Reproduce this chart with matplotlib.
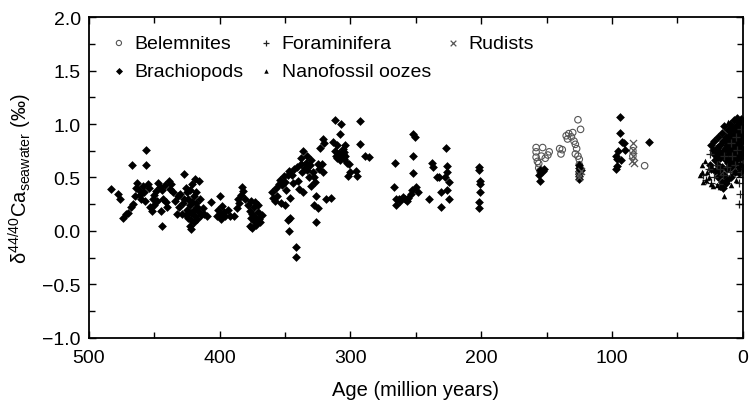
import matplotlib
matplotlib.use("Agg")
import matplotlib.pyplot as plt
from matplotlib.ticker import MultipleLocator

plt.rcParams['font.family'] = ['Liberation Sans', 'DejaVu Sans']
plt.rcParams['mathtext.fontset'] = 'custom'
plt.rcParams['mathtext.rm'] = 'Liberation Sans'
plt.rcParams['mathtext.it'] = 'Liberation Sans:italic'

# brachiopods (age in Ma, delta value)
brach_age = [483, 478, 476, 474, 472, 470, 468, 467, 466, 465, 464, 463, 462, 461, 460, 459, 458, 457, 456, 456,
             455, 454, 453, 452, 451, 450, 450, 449, 448, 447, 446, 445, 444, 444, 443, 442, 441, 440, 439, 438,
             437, 436,
             434, 433, 432, 431, 430, 429, 428, 427, 427, 426, 426, 425, 425, 424, 424, 423, 423, 423, 422, 422,
             422, 421, 421, 420, 420, 420, 419, 419, 418, 418, 417, 417, 416, 416, 415, 414, 413, 412, 410, 407,
             402, 401, 400, 400, 399, 398, 397, 396, 394, 392, 389, 387, 386, 385, 384, 383, 382, 381, 378, 377,
             377, 376, 376, 375, 375, 374, 374, 373, 373, 372, 371, 371, 370, 369, 368,
             360, 359, 358, 357, 356, 355, 354, 353, 352, 351, 350, 350, 349, 348, 348, 347, 347, 346, 346, 345,
             344, 343, 342, 342, 341, 340, 339, 338, 338, 337, 336, 336, 335, 334, 333, 333, 332, 331, 330, 330,
             329, 328, 328, 327, 326, 326, 325, 325, 324, 323, 322, 321, 321, 320, 319,
             315, 313, 312, 312, 311, 310, 310, 309, 308, 308, 307, 307, 306, 306, 305, 305, 304, 304, 303, 302,
             301, 300, 296, 295, 293, 293, 289, 286,
             267, 266, 265, 265, 263, 262, 260, 258, 257, 256, 254, 253, 252, 252, 252, 251, 250, 248, 240, 238,
             237, 234, 232, 231, 231, 228, 227, 226, 226, 226, 225, 225, 202, 202, 201, 201, 201, 202, 202,
             155, 154, 156, 155, 153, 152, 125, 125, 125, 125, 125, 124, 125,
             94, 94, 92, 91, 95, 97, 96, 93, 90, 97, 96, 72,
             24, 23, 22, 22, 21, 20, 20, 19, 19, 18, 18, 17, 17, 16, 16, 15, 15, 14, 14, 14,
             13, 13, 12, 12, 12, 11, 11, 11, 10, 10, 10, 9, 9, 9, 8, 8, 8, 7, 7, 7,
             6, 6, 6, 5, 5, 5, 4, 4, 4, 3, 3, 3, 2, 2, 2, 1, 1, 1, 0.5, 0.5,
             6, 9, 13, 16, 17, 15, 19, 21, 12, 3, 25, 24,
             1, 2, 3, 4, 5, 6, 7, 8, 9, 10, 11, 12, 1, 2, 4, 6, 8, 10, 3, 5,
             7, 9, 11, 13, 2, 0.5, 1.5, 2.5, 4.5, 6.5]
brach_val = [0.39, 0.35, 0.30, 0.12, 0.16, 0.17, 0.22, 0.62, 0.25, 0.33, 0.40, 0.45, 0.38, 0.34, 0.30, 0.42, 0.36, 0.28, 0.76, 0.62,
             0.44, 0.40, 0.22, 0.19, 0.30, 0.34, 0.24, 0.37, 0.28, 0.45, 0.41, 0.19, 0.05, 0.38, 0.30, 0.43, 0.27, 0.22, 0.47, 0.39,
             0.44, 0.36,
             0.28, 0.16, 0.33, 0.22, 0.35, 0.16, 0.26, 0.53, 0.30, 0.40, 0.15, 0.36, 0.20, 0.12, 0.30, 0.05, 0.24, 0.38, 0.02, 0.10,
             0.17, 0.27, 0.44, 0.08, 0.20, 0.33, 0.49, 0.14, 0.36, 0.26, 0.11, 0.22, 0.18, 0.47, 0.30, 0.15, 0.21, 0.16, 0.14, 0.27,
             0.14, 0.20, 0.33, 0.16, 0.11, 0.23, 0.18, 0.14, 0.20, 0.14, 0.14, 0.21, 0.30, 0.26, 0.34, 0.41, 0.37, 0.30, 0.24, 0.05,
             0.19, 0.12, 0.28, 0.03, 0.16, 0.22, 0.09, 0.27, 0.13, 0.06, 0.18, 0.24, 0.11, 0.08, 0.15,
             0.36, 0.31, 0.28, 0.40, 0.33, 0.44, 0.48, 0.26, 0.43, 0.51, 0.24, 0.46, 0.38, 0.52, 0.10, 0.00, 0.56, 0.31, 0.12, 0.52,
             0.45, 0.58, -0.15, -0.24, 0.60, 0.47, 0.39, 0.63, 0.68, 0.55, 0.75, 0.36, 0.59, 0.64, 0.70, 0.57, 0.50, 0.62, 0.42, 0.66,
             0.55, 0.24, 0.50, 0.46, 0.08, 0.33, 0.63, 0.21, 0.58, 0.78, 0.63, 0.86, 0.55, 0.82, 0.30,
             0.31, 0.83, 1.04, 0.75, 0.70, 0.68, 0.80, 0.73, 0.91, 0.66, 1.00, 0.69, 0.72, 0.77, 0.67, 0.74, 0.70, 0.80, 0.64, 0.51,
             0.63, 0.55, 0.56, 0.51, 1.03, 0.81, 0.70, 0.69,
             0.41, 0.64, 0.30, 0.24, 0.30, 0.28, 0.32, 0.30, 0.28, 0.31, 0.35, 0.38, 0.91, 0.70, 0.54, 0.88, 0.41, 0.36, 0.30, 0.64,
             0.60, 0.50, 0.50, 0.36, 0.22, 0.50, 0.78, 0.61, 0.55, 0.38, 0.30, 0.46, 0.60, 0.57, 0.47, 0.44, 0.36, 0.27, 0.21,
             0.57, 0.55, 0.52, 0.47, 0.56, 0.58, 0.62, 0.59, 0.56, 0.53, 0.51, 0.57, 0.49,
             1.07, 0.92, 0.83, 0.82, 0.75, 0.70, 0.67, 0.66, 0.76, 0.58, 0.61, 0.83,
             0.80, 0.76, 0.72, 0.84, 0.66, 0.78, 0.70, 0.62, 0.88, 0.74, 0.56, 0.80, 0.68, 0.92, 0.60, 0.72, 0.84, 0.52, 0.76, 0.98,
             0.66, 0.88, 0.80, 0.58, 0.70, 0.94, 0.76, 0.64, 0.86, 0.72, 1.00, 0.60, 0.80, 0.90, 0.68, 0.96, 0.76, 0.84, 0.64, 1.04,
             0.72, 0.90, 0.78, 0.98, 0.66, 0.86, 0.74, 0.94, 0.82, 1.02, 0.70, 0.88, 0.78, 0.96, 0.62, 0.84, 1.05, 0.72, 0.92, 0.58,
             0.55, 0.50, 0.45, 0.46, 0.42, 0.40, 0.50, 0.56, 0.48, 0.54, 0.62, 0.58,
             0.99, 1.03, 0.93, 0.88, 0.92, 0.84, 0.94, 0.86, 0.74, 0.90, 0.82, 0.86, 0.78, 0.82, 0.68, 0.80, 0.72, 0.64, 0.76, 0.70,
             0.74, 0.70, 0.70, 0.78, 0.68, 0.76, 0.88, 0.60, 1.06, 0.64]

belem_age = [158, 158, 158, 157, 156, 156, 153, 154, 151, 149, 148, 155, 140, 139, 138, 135, 134, 133, 131, 130,
             129, 128, 127, 128, 126, 126, 124, 125, 125, 124, 125, 84, 84, 75]
belem_val = [0.78, 0.74, 0.69, 0.65, 0.63, 0.59, 0.78, 0.70, 0.68, 0.71, 0.74, 0.56, 0.77, 0.72, 0.76, 0.89, 0.86, 0.91, 0.88, 0.92,
             0.84, 0.81, 0.77, 0.72, 0.70, 1.04, 0.95, 0.67, 0.62, 0.58, 0.54, 0.75, 0.70, 0.61]

foram_age = [30, 28, 26, 24, 22, 20, 18, 15, 12, 10, 8, 6, 4, 3, 2, 3, 1, 5, 9, 14, 17, 25, 1]
foram_val = [0.52, 0.48, 0.58, 0.45, 0.50, 0.62, 0.44, 0.52, 0.60, 0.55, 0.70, 0.62, 0.76, 0.45, 0.35, 0.25, 0.55, 0.88, 0.82,
             0.70, 0.58, 0.72, 0.95]

nano_age = [33, 31, 31, 29, 28, 27, 30, 26, 24, 23, 20, 17, 14, 9, 5, 11, 3, 7]
nano_val = [0.52, 0.55, 0.62, 0.65, 0.48, 0.55, 0.46, 0.50, 0.44, 0.42, 0.43, 0.41, 0.33, 0.43, 0.48, 1.02, 0.60, 0.55]

rud_age = [125, 125, 124, 84, 84, 84, 85, 83]
rud_val = [0.50, 0.53, 0.56, 0.82, 0.76, 0.70, 0.65, 0.64]

fig = plt.figure(figsize=(7.54, 4.02), dpi=100)
ax = fig.add_axes([0.118, 0.157, 0.867, 0.798])

ax.scatter(belem_age, belem_val, marker='o', s=22, facecolors='none', edgecolors='#555555', linewidths=0.8, label='Belemnites')
ax.scatter(brach_age, brach_val, marker='D', s=20, color='black', linewidths=0, label='Brachiopods')
ax.scatter(foram_age, foram_val, marker='+', s=30, color='#222222', linewidths=0.9, label='Foraminifera')
ax.scatter(nano_age, nano_val, marker='^', s=16, color='black', linewidths=0, label='Nanofossil oozes')
ax.scatter(rud_age, rud_val, marker='x', s=26, color='#555555', linewidths=0.9, label='Rudists')

ax.set_xlim(500, 0)
ax.set_ylim(-1.0, 2.0)
ax.xaxis.set_major_locator(MultipleLocator(100))
ax.xaxis.set_minor_locator(MultipleLocator(50))
ax.yaxis.set_major_locator(MultipleLocator(0.5))
ax.yaxis.set_minor_locator(MultipleLocator(0.25))
ax.yaxis.set_major_formatter(plt.FuncFormatter(lambda v, p: f"{v:.1f}".replace('-', '\u2212')))
ax.tick_params(which='both', direction='in', top=True, right=True, labelsize=14, width=1.0)
ax.tick_params(which='major', length=5)
ax.tick_params(which='minor', length=4)
ax.tick_params(axis='x', which='major', pad=8)
ax.tick_params(axis='y', which='major', pad=6)
for s in ax.spines.values():
    s.set_linewidth(1.3)

ax.set_xlabel('Age (million years)', fontsize=14.5, labelpad=10)
ax.set_ylabel(r'δ$^{44/40}$Ca$_{\mathrm{seawater}}$ (‰)', fontsize=14.5, labelpad=6)

ax.legend(ncol=3, loc='upper left', bbox_to_anchor=(0.022, 0.97), frameon=False, fontsize=14,
          handlelength=0.8, handletextpad=0.4, columnspacing=0.75, labelspacing=0.55, scatterpoints=1,
          borderaxespad=0.0, markerscale=0.8)

fig.savefig('out.png', dpi=100)
